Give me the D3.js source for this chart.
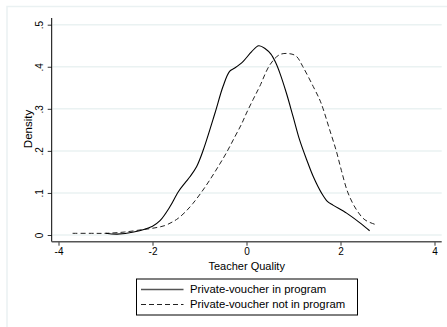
<!DOCTYPE html>
<html>
<head>
<meta charset="utf-8">
<script src="https://cdn.jsdelivr.net/npm/d3@7"></script>
<style>
  html, body { margin: 0; padding: 0; background: #fff; }
  svg { display: block; font-family: "Liberation Sans", Arial, Helvetica, sans-serif; }
</style>
</head>
<body>
<svg id="chart" width="447" height="327"></svg>
<script>
// Kernel density estimates of teacher quality, by program status
const inProgramX = [-3.0, -2.75, -2.4, -2.0, -1.84, -1.63, -1.45, -1.3, -1.2, -1.06, -0.92, -0.67, -0.5, -0.36, -0.25, -0.07, 0.11, 0.26, 0.4, 0.52, 0.62, 0.71, 0.85, 0.99, 1.13, 1.28, 1.42, 1.6, 1.72, 1.84, 2.13, 2.4, 2.62];
const inProgramY = [0.004, 0.002, 0.007, 0.021, 0.034, 0.067, 0.103, 0.125, 0.139, 0.163, 0.202, 0.29, 0.353, 0.389, 0.397, 0.413, 0.436, 0.45, 0.443, 0.43, 0.41, 0.385, 0.337, 0.282, 0.226, 0.179, 0.139, 0.099, 0.08, 0.071, 0.052, 0.03, 0.01];

const notInProgramX = [-3.7, -3.3, -3.0, -2.6, -2.2, -2.0, -1.75, -1.56, -1.45, -1.3, -1.14, -0.95, -0.78, -0.6, -0.43, -0.25, -0.1, 0.0, 0.14, 0.28, 0.5, 0.71, 0.92, 1.06, 1.2, 1.42, 1.56, 1.63, 1.77, 1.91, 2.02, 2.16, 2.34, 2.52, 2.77];
const notInProgramY = [0.004, 0.004, 0.004, 0.007, 0.013, 0.016, 0.022, 0.032, 0.04, 0.055, 0.075, 0.103, 0.131, 0.163, 0.195, 0.233, 0.265, 0.29, 0.322, 0.353, 0.405, 0.429, 0.431, 0.425, 0.40, 0.353, 0.321, 0.30, 0.25, 0.20, 0.153, 0.10, 0.06, 0.036, 0.024];

const xTicks = [-4, -2, 0, 2, 4];
const yTicks = [0, 0.1, 0.2, 0.3, 0.4, 0.5];
const yTickLabels = ["0", ".1", ".2", ".3", ".4", ".5"];
const seriesNames = ["Private-voucher in program", "Private-voucher not in program"];

const svg = d3.select("#chart");

// outer graph region border
svg.append("rect")
  .attr("x", 7).attr("y", 6.5)
  .attr("width", 460).attr("height", 340)
  .attr("fill", "#fff")
  .attr("stroke", "#eaf1f2").attr("stroke-width", 1.5);

const x = d3.scaleLinear().domain([-4, 4]).range([58.5, 434.5]);
const y = d3.scaleLinear().domain([0, 0.5]).range([235, 24.7]);

const plotLeft = 51.7, plotRight = 441.7, plotTop = 18, plotBottom = 241.7;

// horizontal grid
svg.append("g")
  .selectAll("line")
  .data(yTicks)
  .join("line")
  .attr("x1", plotLeft + 1).attr("x2", plotRight)
  .attr("y1", d => y(d)).attr("y2", d => y(d))
  .attr("stroke", "#eaf2f2").attr("stroke-width", 1.5);

// y axis
const yAxis = d3.axisLeft(y)
  .tickValues(yTicks)
  .tickFormat((d, i) => yTickLabels[i])
  .tickSize(4);
const gy = svg.append("g").attr("transform", `translate(${plotLeft},0)`).call(yAxis);
gy.select(".domain").remove();
gy.append("line")
  .attr("x1", 0).attr("x2", 0)
  .attr("y1", plotTop).attr("y2", plotBottom)
  .attr("stroke", "#000").attr("stroke-width", 1);
gy.selectAll(".tick line").attr("stroke", "#333");
gy.selectAll(".tick text")
  .attr("fill", "#000")
  .attr("font-size", 10)
  .attr("text-anchor", "middle")
  .attr("transform", "rotate(-90)")
  .attr("x", 0)
  .attr("y", -8.5)
  .attr("dy", 0);

// x axis
const xAxis = d3.axisBottom(x)
  .tickValues(xTicks)
  .tickFormat(d3.format("d"))
  .tickSize(4)
  .tickPadding(2);
const gx = svg.append("g").attr("transform", `translate(0,${plotBottom})`).call(xAxis);
gx.select(".domain").remove();
gx.append("line")
  .attr("x1", plotLeft).attr("x2", plotRight)
  .attr("y1", 0).attr("y2", 0)
  .attr("stroke", "#555").attr("stroke-width", 1.6);
gx.selectAll(".tick line").attr("stroke", "#333");
gx.selectAll(".tick text").attr("fill", "#000").attr("font-size", 10)
  .text(d => d < 0 ? "-" + Math.abs(d) : String(d));

// axis titles
svg.append("text")
  .attr("x", 246.7).attr("y", 270)
  .attr("text-anchor", "middle")
  .attr("font-size", 11)
  .text("Teacher Quality");

svg.append("text")
  .attr("transform", "translate(31.5,129) rotate(-90)")
  .attr("text-anchor", "middle")
  .attr("font-size", 11.5)
  .text("Density");

// density curves
const line = d3.line()
  .x(d => x(d[0]))
  .y(d => y(d[1]))
  .curve(d3.curveCatmullRom.alpha(0.5));

const solidPts = inProgramX.map((v, i) => [v, inProgramY[i]]);
const dashPts = notInProgramX.map((v, i) => [v, notInProgramY[i]]);

svg.append("path")
  .attr("d", line(dashPts))
  .attr("fill", "none")
  .attr("stroke", "#222")
  .attr("stroke-width", 1)
  .attr("stroke-dasharray", "5,3");

svg.append("path")
  .attr("d", line(solidPts))
  .attr("fill", "none")
  .attr("stroke", "#000")
  .attr("stroke-width", 1.1);

// legend
const legend = svg.append("g");
legend.append("rect")
  .attr("x", 136.5).attr("y", 279)
  .attr("width", 221).attr("height", 36)
  .attr("fill", "#fff")
  .attr("stroke", "#000").attr("stroke-width", 1);

const legRows = [
  { name: seriesNames[0], dash: null, yy: 289.5, color: "#555", w: 1.4 },
  { name: seriesNames[1], dash: "5,3", yy: 304.5, color: "#222", w: 1 }
];
legRows.forEach(r => {
  legend.append("line")
    .attr("x1", 141).attr("x2", 183.5)
    .attr("y1", r.yy).attr("y2", r.yy)
    .attr("stroke", r.color).attr("stroke-width", r.w)
    .attr("stroke-dasharray", r.dash);
  legend.append("text")
    .attr("x", 190).attr("y", r.yy + 3.8)
    .attr("font-size", 11.3)
    .text(r.name);
});
</script>
</body>
</html>
